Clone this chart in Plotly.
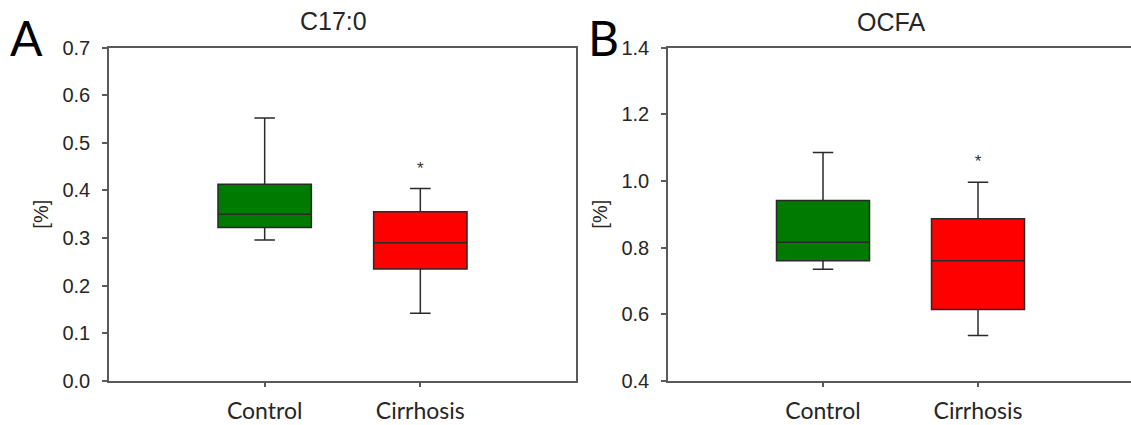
import plotly.graph_objects as go

groups = ["Control", "Cirrhosis"]
box_colors = ["#007A00", "#FF0000"]

# Panel A: C17:0
a_lower = [0.296, 0.142]
a_q1 = [0.322, 0.235]
a_median = [0.350, 0.290]
a_q3 = [0.413, 0.355]
a_upper = [0.552, 0.404]
a_star = [None, 0.443]

# Panel B: OCFA
b_lower = [0.735, 0.536]
b_q1 = [0.760, 0.614]
b_median = [0.816, 0.760]
b_q3 = [0.941, 0.886]
b_upper = [1.085, 0.996]
b_star = [None, 1.053]

W, H = 1131, 425
fig = go.Figure()

def add_panel(xa, ya, lower, q1, med, q3, upper, star):
    for i, g in enumerate(groups):
        fig.add_trace(go.Box(
            x=[g], q1=[q1[i]], median=[med[i]], q3=[q3[i]],
            lowerfence=[lower[i]], upperfence=[upper[i]],
            fillcolor=box_colors[i], line=dict(color="#2a2a2a", width=1.5),
            width=0.6, whiskerwidth=0.22, boxpoints=False,
            xaxis=xa, yaxis=ya, showlegend=False, hoverinfo="skip"))
    sx = [g for g, s in zip(groups, star) if s is not None]
    sy = [s for s in star if s is not None]
    fig.add_trace(go.Scatter(
        x=sx, y=sy, mode="text", text=["*"] * len(sx),
        textfont=dict(family="Liberation Sans", size=17, color="#333333"),
        xaxis=xa, yaxis=ya, showlegend=False, hoverinfo="skip"))

add_panel("x", "y", a_lower, a_q1, a_median, a_q3, a_upper, a_star)
add_panel("x2", "y2", b_lower, b_q1, b_median, b_q3, b_upper, b_star)

axcol = "#5a5a5a"
tickfont = dict(family="Liberation Sans", size=20, color="#262626")
xtickfont = dict(family="Lato", size=23, color="#262626")

ydom = [1 - 380.7 / H, 1 - 47.7 / H]
common_x = dict(type="category", categoryorder="array", categoryarray=groups,
                showline=True, linecolor=axcol, linewidth=1.5, mirror=True,
                ticks="outside", ticklen=5, tickcolor=axcol, tickwidth=1.5,
                showgrid=False, zeroline=False, tickfont=xtickfont,
                ticklabelstandoff=4, automargin=False)
common_y = dict(showline=True, linecolor=axcol, linewidth=1.5,
                ticks="outside", ticklen=5, tickcolor=axcol, tickwidth=1.5,
                showgrid=False, zeroline=False, tickfont=tickfont,
                tickformat=".1f", ticklabelstandoff=8, automargin=False,
                title=dict(text="[%]", font=dict(family="Liberation Sans", size=20, color="#262626"),
                           standoff=8))

fig.update_layout(
    width=W, height=H, margin=dict(l=0, r=0, t=0, b=0),
    plot_bgcolor="white", paper_bgcolor="white",
    xaxis=dict(domain=[109 / W, 576 / W], range=[-1, 2], anchor="y", **common_x),
    yaxis=dict(domain=ydom, range=[0, 0.7], dtick=0.1, anchor="x", mirror=True, **common_y),
    xaxis2=dict(domain=[668 / W, 1.0], range=[-1, 1.987], anchor="y2", **common_x),
    yaxis2=dict(domain=ydom, range=[0.4, 1.4], dtick=0.2, anchor="x2", mirror=False, **common_y),
    annotations=[
        dict(text="C17:0", x=333.5 / W, y=1 - 21 / H, xref="paper", yref="paper",
             showarrow=False, font=dict(family="Liberation Sans", size=25, color="#262626"),
             xanchor="center", yanchor="middle"),
        dict(text="OCFA", x=891 / W, y=1 - 22 / H, xref="paper", yref="paper",
             showarrow=False, font=dict(family="Liberation Sans", size=25, color="#262626"),
             xanchor="center", yanchor="middle"),
        dict(text="A", x=27 / W, y=1 - 38 / H, xref="paper", yref="paper",
             showarrow=False, font=dict(family="Lato", size=48, color="#000000"),
             xanchor="center", yanchor="middle"),
        dict(text="B", x=603 / W, y=1 - 38 / H, xref="paper", yref="paper",
             showarrow=False, font=dict(family="Lato", size=48, color="#000000"),
             xanchor="center", yanchor="middle"),
    ],
)

fig.write_html("out.html")
